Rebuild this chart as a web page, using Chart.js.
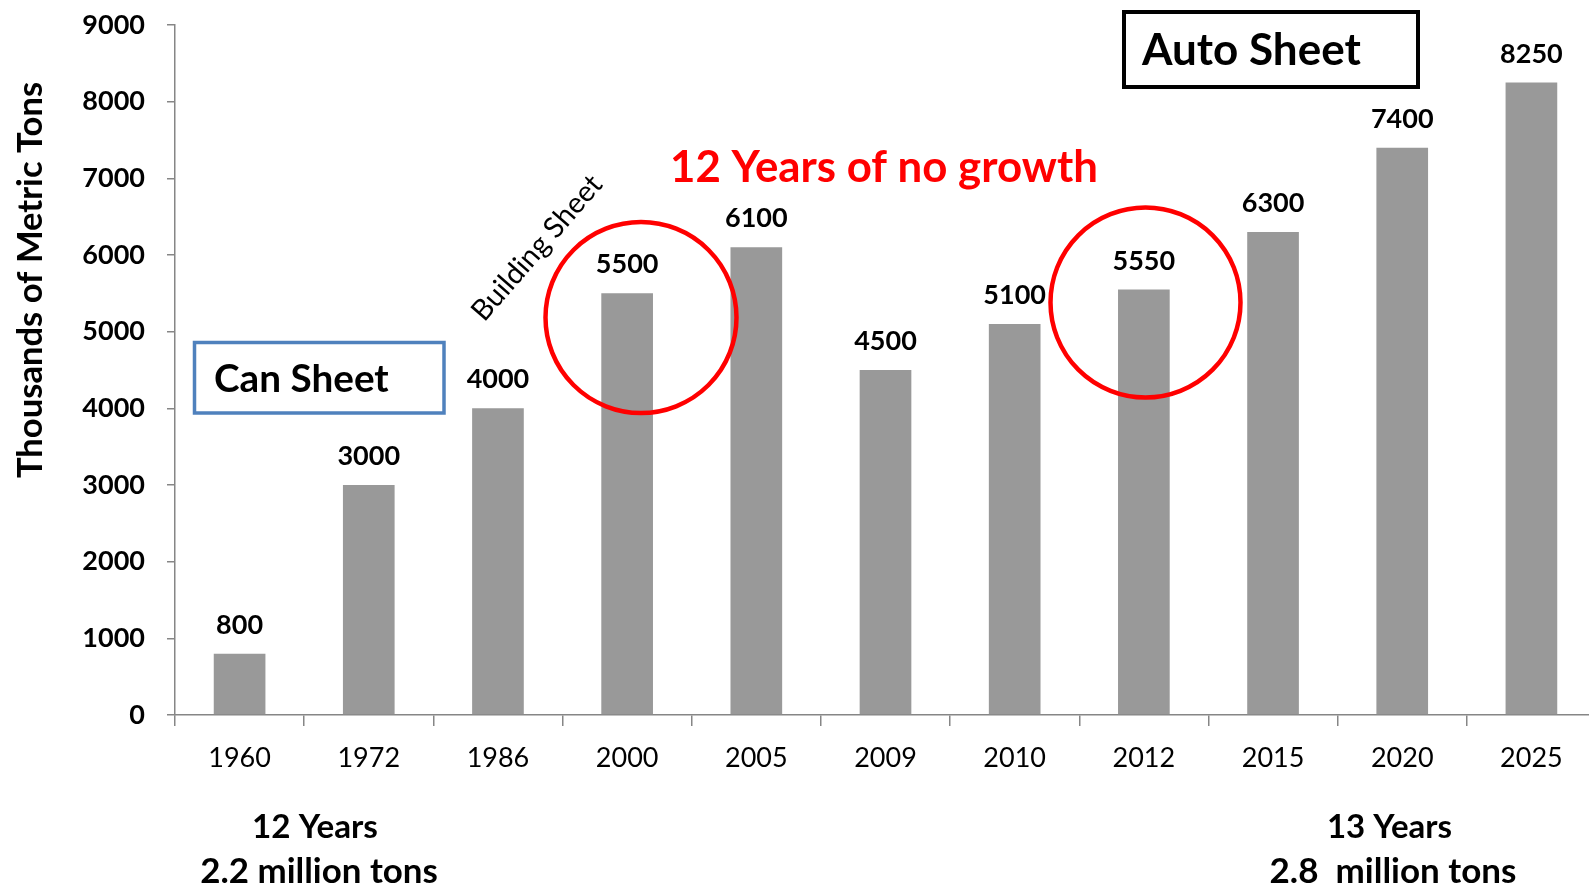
<!DOCTYPE html>
<html>
<head>
<meta charset="utf-8">
<script src="https://cdn.jsdelivr.net/npm/chart.js@4.4.0/dist/chart.umd.min.js"></script>
<style>
    html, body { margin: 0; padding: 0; background: #fff; overflow: hidden; }
    #wrap { width: 1589px; height: 886px; overflow: hidden; }
</style>
</head>
<body>
<div id="wrap"><canvas id="sheetDemandChart" width="1597" height="886"></canvas></div>
<script>
const years = ['1960', '1972', '1986', '2000', '2005', '2009', '2010', '2012', '2015', '2020', '2025'];
const demand = [800, 3000, 4000, 5500, 6100, 4500, 5100, 5550, 6300, 7400, 8250];
const yMax = 9000;
const yStep = 1000;

const AXIS_GRAY = '#868686';
const BAR_GRAY = '#999999';

// set the font so the text spans the given width
function fitText(ctx, text, weight, width) {
    ctx.font = `${weight} 100px Lato`;
    const size = 100 * width / ctx.measureText(text).width;
    ctx.font = `${weight} ${size.toFixed(1)}px Lato`;
}

function putText(ctx, text, x, y, width, opts = {}) {
    ctx.save();
    ctx.fillStyle = opts.color || '#000';
    ctx.textAlign = opts.align || 'left';
    ctx.textBaseline = opts.baseline || 'alphabetic';
    fitText(ctx, text, opts.weight || 'bold', width);
    ctx.translate(x, y);
    if (opts.angle) ctx.rotate(opts.angle * Math.PI / 180);
    ctx.fillText(text, 0, 0);
    ctx.restore();
}

const valueLabels = {
    id: 'valueLabels',
    afterDatasetsDraw(chart) {
        const ctx = chart.ctx;
        const meta = chart.getDatasetMeta(0);
        ctx.save();
        ctx.font = 'bold 27px Lato';
        ctx.fillStyle = '#000';
        ctx.textAlign = 'center';
        ctx.textBaseline = 'alphabetic';
        meta.data.forEach((bar, i) => {
            ctx.fillText(String(demand[i]), bar.x, bar.y - 20);
        });
        ctx.restore();
    }
};

const notes = {
    id: 'notes',
    afterDraw(chart) {
        const ctx = chart.ctx;

        // axis title, sits above the middle of the axis
        putText(ctx, 'Thousands of Metric Tons', 31, 280, 396, { align: 'center', baseline: 'middle', angle: -90 });

        // boxed labels
        ctx.save();
        ctx.lineWidth = 3.5;
        ctx.strokeStyle = '#4F81BD';
        ctx.strokeRect(194.5, 342.5, 249.5, 70.5);
        ctx.lineWidth = 4;
        ctx.strokeStyle = '#000';
        ctx.strokeRect(1124, 12, 294, 75);
        ctx.restore();
        putText(ctx, 'Can Sheet', 214, 392, 175);
        putText(ctx, 'Auto Sheet', 1142, 65, 219);

        putText(ctx, 'Building Sheet', 537, 248, 182, { weight: 'normal', align: 'center', baseline: 'middle', angle: -49 });

        // flat period
        putText(ctx, '12 Years of no growth', 670, 182, 428, { color: '#FF0000' });
        ctx.save();
        ctx.lineWidth = 4.5;
        ctx.strokeStyle = '#FF0000';
        ctx.beginPath();
        ctx.arc(641, 317.5, 95.5, 0, Math.PI * 2);
        ctx.stroke();
        ctx.beginPath();
        ctx.arc(1145.5, 302.5, 95, 0, Math.PI * 2);
        ctx.stroke();
        ctx.restore();

        putText(ctx, '12 Years', 315, 838, 126, { align: 'center' });
        putText(ctx, '2.2 million tons', 319, 883, 238, { align: 'center' });
        putText(ctx, '13 Years', 1389.5, 838, 125, { align: 'center' });
        putText(ctx, '2.8  million tons', 1393, 883, 247, { align: 'center' });
    }
};

function drawChart() {
    Chart.defaults.font.family = 'Lato';
    Chart.defaults.color = '#000';

    new Chart(document.getElementById('sheetDemandChart'), {
        type: 'bar',
        data: {
            labels: years,
            datasets: [{
                data: demand,
                backgroundColor: BAR_GRAY,
                borderWidth: 0,
                categoryPercentage: 1,
                barPercentage: 0.4
            }]
        },
        options: {
            responsive: false,
            animation: false,
            devicePixelRatio: 1,
            layout: { padding: { top: 25, right: 1, left: 0, bottom: 0 } },
            plugins: {
                legend: { display: false },
                tooltip: { enabled: false }
            },
            scales: {
                x: {
                    grid: { offset: true, drawOnChartArea: false, tickLength: 11, color: AXIS_GRAY, lineWidth: 1.5 },
                    border: { color: AXIS_GRAY, width: 1.5 },
                    ticks: { font: { size: 27 }, color: '#000', padding: 16, maxRotation: 0, autoSkip: false },
                    afterFit: scale => {
                        scale.height = 171;
                        scale.paddingLeft = 0;
                        scale.paddingRight = 0;
                    }
                },
                y: {
                    min: 0,
                    max: yMax,
                    grid: { drawOnChartArea: false, tickLength: 8, color: AXIS_GRAY, lineWidth: 1.5 },
                    border: { color: AXIS_GRAY, width: 1.5 },
                    ticks: {
                        stepSize: yStep,
                        font: { size: 27, weight: 'bold' },
                        color: '#000',
                        padding: 22,
                        callback: v => String(v)
                    },
                    afterFit: scale => {
                        // label padding would otherwise push the top of the axis down
                        scale.width = 175;
                        scale.paddingTop = 0;
                        scale.paddingBottom = 0;
                    }
                }
            }
        },
        plugins: [valueLabels, notes]
    });
}

document.fonts.load('bold 27px Lato').then(drawChart, drawChart);
</script>
</body>
</html>
